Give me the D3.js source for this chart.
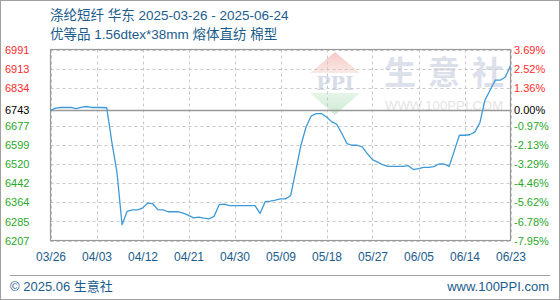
<!DOCTYPE html>
<html>
<head>
<meta charset="utf-8">
<script src="https://cdn.jsdelivr.net/npm/d3@7"></script>
<style>
  body { margin: 0; background: #fff; }
  svg { display: block; }
  text { font-family: "Liberation Sans", Arial, "Noto Sans CJK SC", sans-serif; }
</style>
</head>
<body>
<div id="chart"></div>
<script>
// price series, one value per point (index 0 = 03/26)
var prices = [
	6741, 6750, 6753, 6753, 6753, 6748, 6753, 6757, 6753, 6753,
	6753, 6752, 6611, 6488, 6272, 6327, 6333, 6333, 6340, 6360,
	6358, 6334, 6333, 6325, 6325, 6325, 6319, 6310, 6300, 6303,
	6299, 6296, 6306, 6354, 6356, 6350, 6350, 6350, 6350, 6350,
	6350, 6318, 6366, 6369, 6373, 6378, 6378, 6392, 6495, 6598,
	6673, 6718, 6728, 6728, 6714, 6695, 6684, 6646, 6605, 6598,
	6598, 6591, 6563, 6539, 6529, 6518, 6511, 6511, 6511, 6511,
	6514, 6498, 6502, 6507, 6507, 6510, 6521, 6521, 6511, 6575,
	6639, 6639, 6641, 6652, 6690, 6783, 6824, 6865, 6865, 6878,
	6925
];
var xLabels = ["03/26", "04/03", "04/12", "04/21", "04/30", "05/09", "05/18", "05/27", "06/05", "06/14", "06/23"];
var yTicks = [6991, 6913, 6834, 6743, 6677, 6599, 6520, 6442, 6364, 6285, 6207];
var pctLabels = ["3.69%", "2.52%", "1.36%", "0.00%", "-0.97%", "-2.13%", "-3.29%", "-4.46%", "-5.62%", "-6.78%", "-7.95%"];
var basePrice = 6743;
var yMin = 6207, yMax = 6991;

var W = 560, H = 300;
// note: "top" is reserved on window, so use plot* names
var plotL = 50.5, plotR = 510.5, plotT = 49.5, plotB = 240.5;

var svg = d3.select("#chart").append("svg")
	.attr("width", W)
	.attr("height", H);

// outer frame
svg.append("rect")
	.attr("x", 0.5).attr("y", 0.5)
	.attr("width", W - 1).attr("height", H - 1)
	.attr("fill", "#fff")
	.attr("stroke", "#a0a0a0");

var x = d3.scaleLinear().domain([0, prices.length - 1]).range([plotL, plotR]),
	y = d3.scaleLinear().domain([yMin, yMax]).range([plotB, plotT]);

var tickIdx = xLabels.map(function(d, i) { return i * 9; });

// watermark
var wm = svg.append("g").attr("class", "watermark");
var defs = svg.append("defs");
var gr = defs.append("linearGradient").attr("id", "wmRed").attr("x1", 0).attr("y1", 0).attr("x2", 0).attr("y2", 1);
gr.append("stop").attr("offset", "0%").attr("stop-color", "#f4c9c4");
gr.append("stop").attr("offset", "100%").attr("stop-color", "#fbe9e6");
var gg = defs.append("linearGradient").attr("id", "wmGreen").attr("x1", 0).attr("y1", 0).attr("x2", 0).attr("y2", 1);
gg.append("stop").attr("offset", "0%").attr("stop-color", "#e6f5e8");
gg.append("stop").attr("offset", "100%").attr("stop-color", "#cdebd3");
wm.append("path").attr("d", "M335,52 L360,73 L310,73 Z").attr("fill", "url(#wmRed)");
wm.append("path").attr("d", "M310,93 L360,93 L335,115 Z").attr("fill", "url(#wmGreen)");
wm.append("text")
	.attr("x", 335).attr("y", 90)
	.attr("text-anchor", "middle")
	.attr("fill", "#d6dce8")
	.style("font-family", "'DejaVu Serif', serif")
	.style("font-weight", "bold")
	.style("font-size", "19px")
	.text("PPI");
wm.append("text")
	.attr("x", 384).attr("y", 84)
	.attr("fill", "#dce0ea")
	.attr("textLength", 120)
	.attr("lengthAdjust", "spacing")
	.style("font-family", "'Noto Sans CJK SC', sans-serif")
	.style("font-weight", "bold")
	.style("font-size", "32px")
	.text("生意社");
wm.append("text")
	.attr("x", 385).attr("y", 110)
	.attr("fill", "#e4e4e4")
	.attr("textLength", 118)
	.style("font-size", "13px")
	.text("WWW.100PPI.COM");

// grid
var grid = svg.append("g").attr("class", "grid");
grid.selectAll(".hgrid")
	.data(yTicks.filter(function(d) { return d !== basePrice; }))
	.enter().append("line")
	.attr("x1", plotL).attr("x2", plotR)
	.attr("y1", function(d) { return Math.round(y(d)) + 0.5; })
	.attr("y2", function(d) { return Math.round(y(d)) + 0.5; })
	.attr("stroke", "#c8c8c8")
	.attr("stroke-dasharray", "3,3");
grid.selectAll(".vgrid")
	.data(tickIdx)
	.enter().append("line")
	.attr("x1", function(d) { return Math.round(x(d)) + 0.5; })
	.attr("x2", function(d) { return Math.round(x(d)) + 0.5; })
	.attr("y1", plotT).attr("y2", plotB)
	.attr("stroke", "#c8c8c8")
	.attr("stroke-dasharray", "3,3");

// base line
svg.append("line")
	.attr("x1", plotL).attr("x2", plotR)
	.attr("y1", Math.round(y(basePrice)) + 0.5)
	.attr("y2", Math.round(y(basePrice)) + 0.5)
	.attr("stroke", "#999")
	.attr("stroke-width", 1.5);

// plot frame
svg.append("rect")
	.attr("x", plotL).attr("y", plotT)
	.attr("width", plotR - plotL).attr("height", plotB - plotT)
	.attr("fill", "none")
	.attr("stroke", "#999")
	.attr("stroke-width", 1.2);

function tickColor(v) {
	return v > basePrice ? "#ff2a2a" : (v < basePrice ? "#2aa82a" : "#000");
}

// left axis
var yAxisL = svg.append("g")
	.attr("transform", "translate(5,0)")
	.call(d3.axisRight(y).tickValues(yTicks).tickSize(0).tickFormat(d3.format("d")));
yAxisL.select(".domain").remove();
yAxisL.selectAll("text")
	.attr("x", 0)
	.attr("fill", function(d) { return tickColor(d); })
	.style("font-size", "11px");

// right axis (percent change against base)
var yAxisR = svg.append("g")
	.attr("transform", "translate(514,0)")
	.call(d3.axisRight(y).tickValues(yTicks).tickSize(0).tickFormat(function(d, i) { return pctLabels[i]; }));
yAxisR.select(".domain").remove();
yAxisR.selectAll("text")
	.attr("x", 0)
	.attr("fill", function(d) { return tickColor(d); })
	.style("font-size", "11px");

// x axis
var xAxis = svg.append("g")
	.attr("transform", "translate(0," + 249 + ")")
	.call(d3.axisBottom(x).tickValues(tickIdx).tickSize(0).tickFormat(function(d, i) { return xLabels[i]; }));
xAxis.select(".domain").remove();
xAxis.selectAll("text")
	.attr("fill", "#1b5c8c")
	.style("font-size", "12px");

// price line
var line = d3.line()
	.x(function(d, i) { return x(i); })
	.y(function(d) { return y(d); });
svg.append("path")
	.datum(prices)
	.attr("fill", "none")
	.attr("stroke", "#3d9ad8")
	.attr("stroke-width", 1.3)
	.attr("stroke-linejoin", "round")
	.attr("d", line);

// titles
svg.append("text")
	.attr("x", 50).attr("y", 20)
	.attr("fill", "#1b5c8c")
	.style("font-size", "13.5px")
	.text("涤纶短纤 华东 2025-03-26 - 2025-06-24");
svg.append("text")
	.attr("x", 50).attr("y", 39)
	.attr("fill", "#1b5c8c")
	.style("font-size", "13.5px")
	.text("优等品 1.56dtex*38mm 熔体直纺 棉型");

// footer
svg.append("line")
	.attr("x1", 10).attr("x2", 550)
	.attr("y1", 275.5).attr("y2", 275.5)
	.attr("stroke", "#a0a0a0");
svg.append("text")
	.attr("x", 10).attr("y", 291)
	.attr("fill", "#1b5c8c")
	.style("font-size", "13px")
	.text("© 2025.06 生意社");
svg.append("text")
	.attr("x", 549).attr("y", 291)
	.attr("text-anchor", "end")
	.attr("fill", "#1b5c8c")
	.style("font-size", "13px")
	.text("www.100PPI.com");
</script>
</body>
</html>
